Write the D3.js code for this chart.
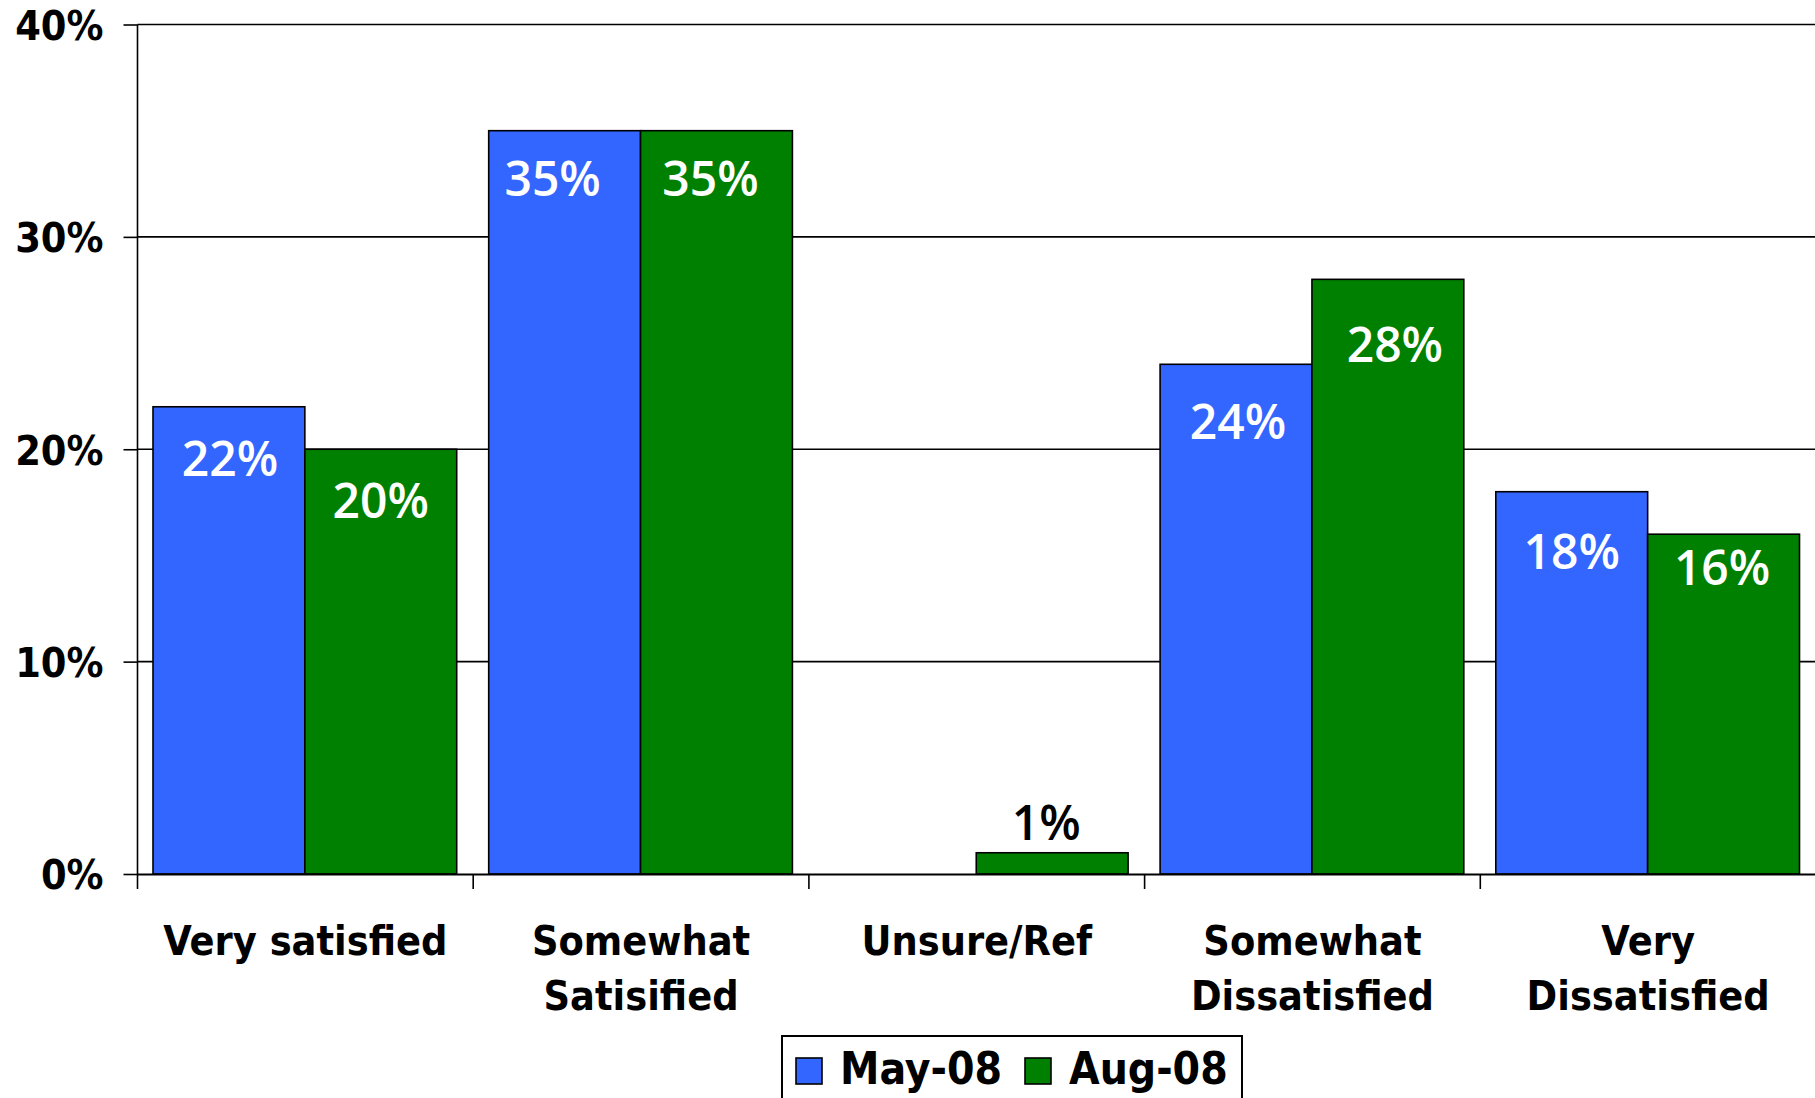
<!DOCTYPE html>
<html>
<head>
<meta charset="utf-8">
<script src="https://cdn.jsdelivr.net/npm/d3@7"></script>
<style>
  html, body { margin: 0; padding: 0; background: #fff; overflow: hidden; }
  .axis text, .cat, .legend text { font-family: "DejaVu Sans Condensed", "DejaVu Sans", sans-serif; font-weight: bold; font-stretch: condensed; fill: #000; }
  .lbl { font-family: "Open Sans", sans-serif; font-weight: 600; }
</style>
</head>
<body>
<svg id="chart" width="1815" height="1098"></svg>
<script>
// data
var categories = ["Very satisfied", "Somewhat\nSatisified", "Unsure/Ref", "Somewhat\nDissatisfied", "Very\nDissatisfied"];
var may08 = [22, 35, null, 24, 18];
var aug08 = [20, 35, 1, 28, 16];
var seriesNames = ["May-08", "Aug-08"];
var seriesColors = ["#3366ff", "#008000"];
var yTicks = [0, 10, 20, 30, 40];

// the data labels were dragged by hand in the original, nudge them the same way
var nudgeX = [[1, -12, 0, 2, 0], [0, -6, -6, 7, -1.5]];
var nudgeY = [[69, 65.5, 0, 74.5, 77], [69, 65.5, -12.5, 83, 51]];

var svg = d3.select("#chart"),
    margin = { top: 24.5, left: 137.5 },
    width = 1678.5,
    height = 849.5,
    g = svg.append("g").attr("transform", "translate(" + margin.left + "," + margin.top + ")");

var x0 = d3.scaleBand().domain(categories).range([0, width]).padding(0);
var x1 = d3.scaleBand().domain(seriesNames).range([15.5, x0.bandwidth() - 16.5]).padding(0);
var y = d3.scaleLinear().domain([0, 40]).range([height, 0]);

var rows = categories.map(function (c, i) {
    return { cat: c, i: i, values: [may08[i], aug08[i]] };
});

// gridlines
g.append("g").selectAll("line")
    .data(yTicks.slice(1))
    .enter().append("line")
    .attr("x1", 0).attr("x2", width)
    .attr("y1", function (d) { return y(d); })
    .attr("y2", function (d) { return y(d); })
    .attr("stroke", "#000").attr("stroke-width", 1.6);

// bars
var groups = g.selectAll(".grp")
    .data(rows)
    .enter().append("g")
    .attr("class", "grp")
    .attr("transform", function (d) { return "translate(" + x0(d.cat) + ",0)"; });

var cells = groups.selectAll(".cell")
    .data(function (d) {
        return d.values.map(function (v, k) { return { s: seriesNames[k], k: k, i: d.i, v: v }; })
            .filter(function (e) { return e.v != null; });
    })
    .enter();

cells.append("rect")
    .attr("x", function (d) { return x1(d.s); })
    .attr("width", x1.bandwidth())
    .attr("y", function (d) { return y(d.v); })
    .attr("height", function (d) { return y(0) - y(d.v); })
    .attr("fill", function (d) { return seriesColors[d.k]; })
    .attr("stroke", "#000").attr("stroke-width", 1.6);

cells.append("text")
    .attr("class", "lbl")
    .attr("x", function (d) { return x1(d.s) + x1.bandwidth() / 2 + nudgeX[d.k][d.i]; })
    .attr("y", function (d) { return y(d.v) + nudgeY[d.k][d.i]; })
    .attr("text-anchor", "middle")
    .attr("font-size", 48)
    .attr("fill", function (d) { return d.v < 5 ? "#000" : "#fff"; })
    .text(function (d) { return d.v + "%"; });

// y axis
var yAxis = g.append("g").attr("class", "axis")
    .call(d3.axisLeft(y).tickValues(yTicks).tickFormat(function (d) { return d + "%"; })
        .tickSize(14).tickPadding(20));
yAxis.select(".domain").attr("stroke-width", 1.6).attr("d", "M0," + height + "V0");
yAxis.selectAll(".tick line").attr("stroke-width", 1.6);
yAxis.selectAll(".tick text").attr("font-size", 41).attr("dy", "0.36em");

// x axis
var xAxis = g.append("g").attr("class", "axis")
    .attr("transform", "translate(0," + height + ")")
    .call(d3.axisBottom(x0).tickSize(0).tickFormat(""));
xAxis.select(".domain").attr("stroke-width", 2);

var bounds = categories.map(function (c) { return x0(c); }).concat([width]);
xAxis.selectAll(".bound")
    .data(bounds)
    .enter().append("line")
    .attr("x1", function (d) { return d; }).attr("x2", function (d) { return d; })
    .attr("y1", 0).attr("y2", 15)
    .attr("stroke", "#000").attr("stroke-width", 1.6);

xAxis.selectAll(".tick").each(function (d) {
    var t = d3.select(this).append("text")
        .attr("class", "cat")
        .attr("text-anchor", "middle")
        .attr("font-size", 41)
        .attr("fill", "#000");
    d.split("\n").forEach(function (line, i) {
        t.append("tspan").attr("x", 0).attr("y", 81 + i * 55).text(line);
    });
});

// legend
var legend = svg.append("g").attr("class", "legend").attr("transform", "translate(782,1036)");
legend.append("rect")
    .attr("width", 460).attr("height", 80)
    .attr("fill", "#fff").attr("stroke", "#000").attr("stroke-width", 2);
var items = legend.selectAll(".item")
    .data(seriesNames)
    .enter().append("g")
    .attr("transform", function (d, i) { return "translate(" + (14 + i * 229) + ",0)"; });
items.append("rect")
    .attr("y", 22).attr("width", 26).attr("height", 26)
    .attr("fill", function (d, i) { return seriesColors[i]; })
    .attr("stroke", "#000").attr("stroke-width", 1.6);
items.append("text")
    .attr("x", 44).attr("y", 48)
    .attr("font-size", 44)
    .text(function (d) { return d; });
</script>
</body>
</html>
